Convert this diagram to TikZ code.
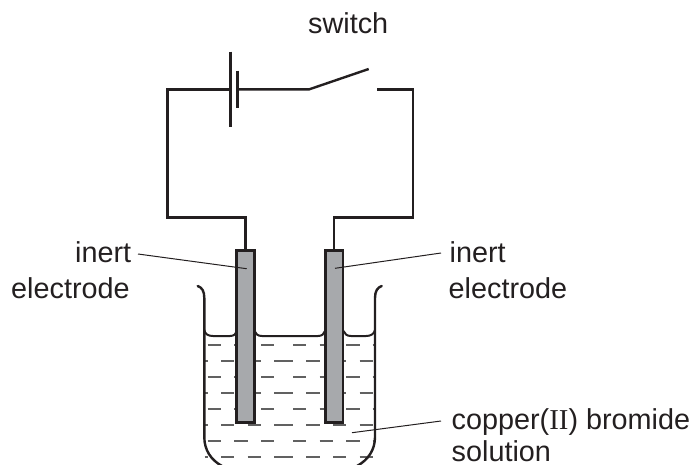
\documentclass[tikz,border=0pt]{standalone}
\usepackage{fontspec}
\setmainfont{Liberation Sans}
\newfontfamily\serifroman{Liberation Serif}
\definecolor{ink}{HTML}{231F20}
\definecolor{rodgrey}{HTML}{A7A9AC}
\tikzset{
 wire/.style={line width=2.4pt,draw=ink},
 elec/.style={line width=2.8pt,draw=ink,fill=rodgrey},
 glass/.style={line width=2.4pt,draw=ink,line cap=round},
 leader/.style={line width=1pt,draw=ink},
 liq/.style={line width=1.9pt,draw=black!62},
 lab/.style={inner sep=0pt,anchor=base west,text=ink,font=\fontsize{28.8}{34}\selectfont,align=left}
}
\begin{document}
\begin{tikzpicture}[x=1pt,y=-1pt]
\useasboundingbox (0,0) rectangle (698,464);
\begin{scope}
\clip (0,0) rectangle (698,464);
% liquid dashes
\foreach \y in {345,377,409,441}{
 \foreach \a/\b in {207.7/221,234.3/247.6,261/274.3,293/306.3,319.7/333,346.3/359.7}{
  \draw[liq] (\a,\y) -- (\b,\y);}
 \draw[liq] (372.5,\y) -- (375,\y);
}
\foreach \y in {361,393,425,457}{
 \foreach \a/\b in {204.5/207.7,221/234.3,247.6/261,274.3/293,306.3/319.7,333/346.3,359.7/373}{
  \draw[liq] (\a,\y) -- (\b,\y);}
}
% beaker
\draw[glass] (197.7,286) .. controls (202,287.5) and (204.3,291) .. (204.3,298)
  -- (204.3,437) .. controls (204.3,450) and (211,460) .. (222,466);
\draw[glass] (381.7,286) .. controls (377.5,287.5) and (375,291) .. (375,298)
  -- (375,437) .. controls (375,450) and (368,460) .. (357,466);
\end{scope}
% surface
\draw[wire,line width=2pt] (204.3,330) .. controls (205,334) and (208,336) .. (213,336) -- (230,336) .. controls (234,336) and (236,334) .. (237,331);
\draw[wire,line width=2pt] (254.5,331) .. controls (255.5,334) and (258,336) .. (262,336) -- (318,336) .. controls (322,336) and (324,334) .. (325,331);
\draw[wire,line width=2pt] (343.5,331) .. controls (344.5,334) and (347,336) .. (351,336) -- (366,336) .. controls (371,336) and (374,334) .. (375,330);
% electrodes
\node[elec,minimum width=17.5pt,minimum height=172pt,inner sep=0pt,anchor=north] (EL) at (245.5,249) {};
\node[elec,minimum width=17.5pt,minimum height=172pt,inner sep=0pt,anchor=north] (ER) at (334.2,249) {};
% circuit
\coordinate (BA) at (230.3,89.3);
\coordinate (BB) at (237.3,89.3);
\coordinate (SA) at (309.3,89.3);
\coordinate (SB) at (368.7,69);
\coordinate (SC) at (377.3,89.3);
\draw[wire] (BA) -- (167.3,89.3) -- (167.3,217.5) -- (EL.north |- 0,217.5) -- (EL.north);
\draw[wire] (SC) -- (413,89.3) -- (413,217.5) -- (ER.north |- 0,217.5) -- (ER.north);
\draw[wire] (BA |- 0,51.7) -- (BA |- 0,127.3);
\draw[wire] (BB |- 0,70.7) -- (BB |- 0,108.3);
\draw[wire] (BB) -- (SA) -- (SB);
% labels
\node[lab] (sw) at (308,33.5) {switch};
\node[lab] (il1) at (75,262.3) {inert};
\node[lab] (il2) at (11,298) {electrode};
\node[lab] (ir1) at (449.5,262.3) {inert};
\node[lab] (ir2) at (448.5,298) {electrode};
\node[lab] (c1) at (451.5,429.3) {copper({\serifroman II}) bromide};
\node[lab] (c2) at (451.5,461.3) {solution};
% leaders
\coordinate (LA) at (138,254);
\coordinate (LB) at (246.7,268.7);
\coordinate (RA) at (441,253);
\coordinate (RB) at (335,268.3);
\coordinate (CA) at (441,421);
\coordinate (CB) at (352,432.7);
\draw[leader] (LA) -- (LB);
\draw[leader] (RA) -- (RB);
\draw[leader] (CA) -- (CB);
\end{tikzpicture}
\end{document}
